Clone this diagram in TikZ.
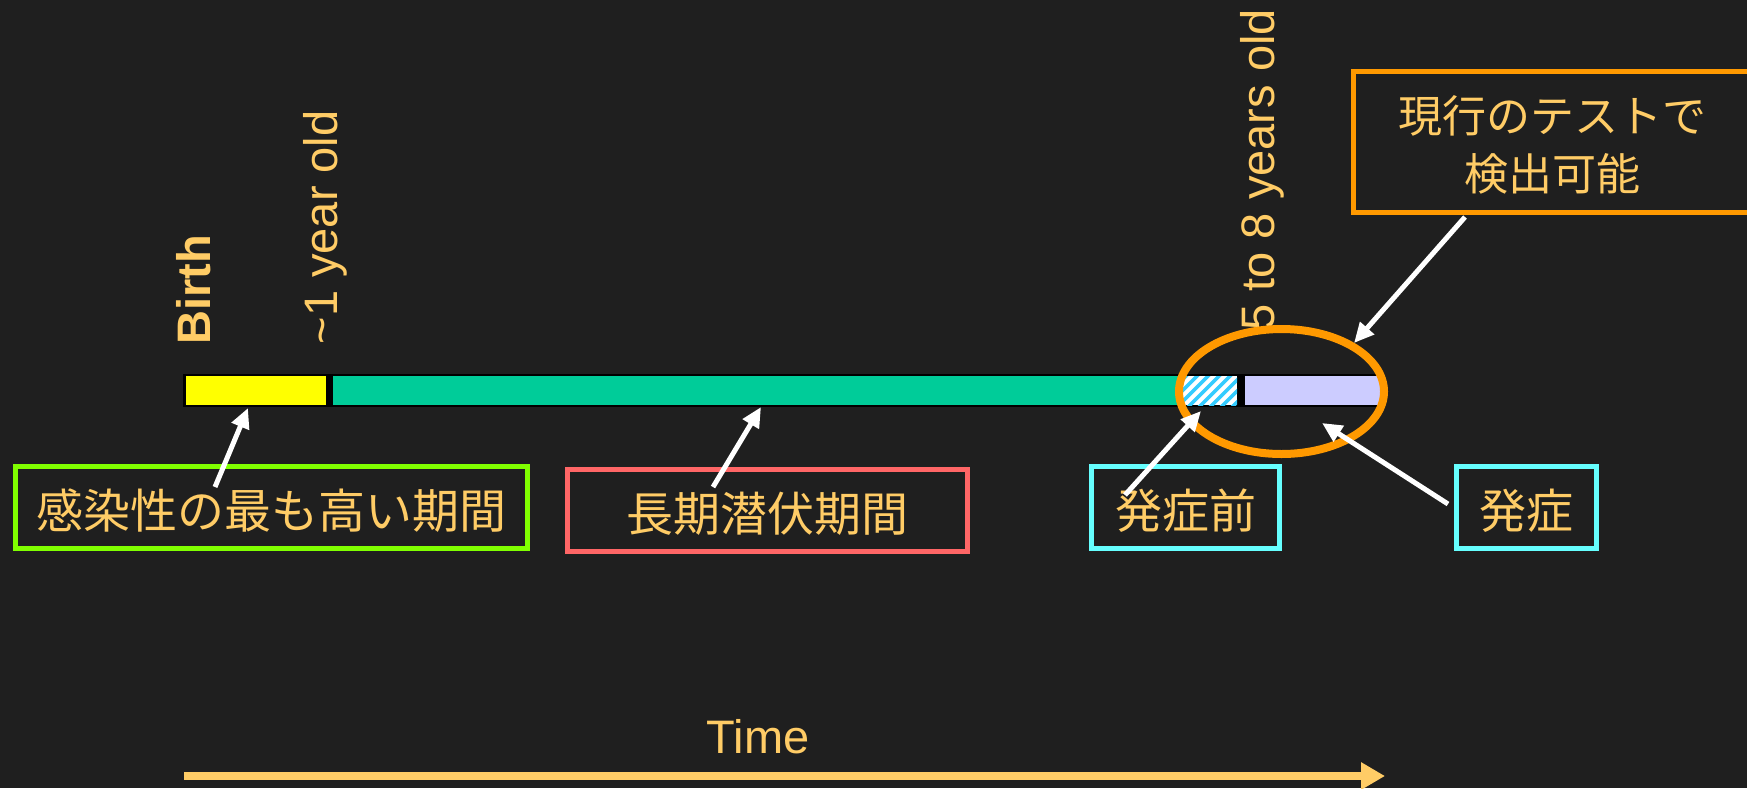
\documentclass[tikz,border=0pt]{standalone}
\usepackage{fontspec}
\setmainfont{Liberation Sans}
\newfontfamily\jpfont{Noto Sans CJK JP}
\usetikzlibrary{arrows.meta}
\definecolor{bg}{HTML}{1F1F1F}
\definecolor{txt}{HTML}{FFCC66}
\definecolor{yel}{HTML}{FFFF00}
\definecolor{teal2}{HTML}{00CC99}
\definecolor{lav}{HTML}{CCCCFF}
\definecolor{hatchc}{HTML}{33CCFF}
\definecolor{orng}{HTML}{FF9900}
\definecolor{grn}{HTML}{80FF00}
\definecolor{redb}{HTML}{FF6666}
\definecolor{cyanb}{HTML}{66FFFF}
\tikzset{
  lbl/.style={draw, line width=5pt, inner sep=0pt, text=txt,
    font=\jpfont\fontsize{47}{58}\selectfont, text height=42.8pt, text depth=0pt,
    minimum height=82pt},
  ptr/.style={white, line width=5pt, -{Triangle[length=20pt,width=18pt]}},
  rot/.style={rotate=90, text=txt, font=\fontsize{47}{56}\selectfont, inner sep=0pt},
}
\begin{document}
\begin{tikzpicture}[x=1pt,y=-1pt]
\useasboundingbox (0,0) rectangle (1747,788);
\fill[bg] (0,0) rectangle (1747,788);
\clip (0,0) rectangle (1747,788);

% timeline bar
\fill[black] (183,374) rectangle (1381,407);
\fill[yel] (186,376) rectangle (326,405);
\fill[teal2] (333,376) rectangle (1181,405);
\begin{scope}
  \clip (1181,376) rectangle (1237,405);
  \fill[white] (1181,376) rectangle (1237,405);
  \foreach \i in {0,...,9} \draw[hatchc, line width=3.5pt] (1150+\i*11,412) -- ++(40,-40);
\end{scope}
\fill[lav] (1245,376) rectangle (1380,405);

% rotated labels
\node[rot, font=\fontsize{47}{56}\selectfont\bfseries, anchor=base west] (birth) at (210,345) {Birth};
\node[rot, anchor=base west] (oneyear) at (337,344.5) {\textasciitilde1 year old};
\begin{scope}
  \clip (1200,0) rectangle (1300,335);
  \node[rot, anchor=base east] (fiveeight) at (1274,9) {5 to 8 years old};
\end{scope}

% boxes
\node[lbl, draw=grn, minimum width=512pt] (g) at (271.5,507.5) {感染性の最も高い期間};
\node[lbl, draw=redb, minimum width=400pt] (r) at (767.5,510.5) {長期潜伏期間};
\node[lbl, draw=cyanb, minimum width=188pt] (c1) at (1185.5,507.5) {発症前};
\node[lbl, draw=cyanb, minimum width=140pt] (c2) at (1526.5,507.5) {発症};
\node[lbl, draw=orng, font=\jpfont\fontsize{44}{58}\selectfont, minimum width=397pt, minimum height=141pt, align=center, text height=97.6pt, text depth=0pt] (top) at (1552,142) {現行のテストで\\検出可能};

% ellipse
\draw[orng, line width=8pt] (1281.5,391.5) ellipse [x radius=102.5, y radius=62.5];

% pointers
\coordinate (gt) at (215,487);  \coordinate (gh) at (248,408);
\coordinate (rt) at (713,487);  \coordinate (rh) at (761,407);
\coordinate (c1t) at (1125,495); \coordinate (c1h) at (1201,411);
\coordinate (c2t) at (1448,504); \coordinate (c2h) at (1322,423);
\coordinate (tt) at (1465,217); \coordinate (th) at (1354,343);
\draw[ptr] (gt) -- (gh);
\draw[ptr] (rt) -- (rh);
\draw[ptr] (c1t) -- (c1h);
\draw[ptr] (c2t) -- (c2h);
\draw[ptr] (tt) -- (th);

% time axis
\node[text=txt, font=\fontsize{47}{56}\selectfont, anchor=base, inner sep=0pt] (time) at (758,753) {Time};
\coordinate (t0) at (184,776); \coordinate (t1) at (1385,776);
\draw[txt, line width=8pt, -{Triangle[length=24pt,width=26pt]}] (t0) -- (t1);
\end{tikzpicture}
\end{document}
